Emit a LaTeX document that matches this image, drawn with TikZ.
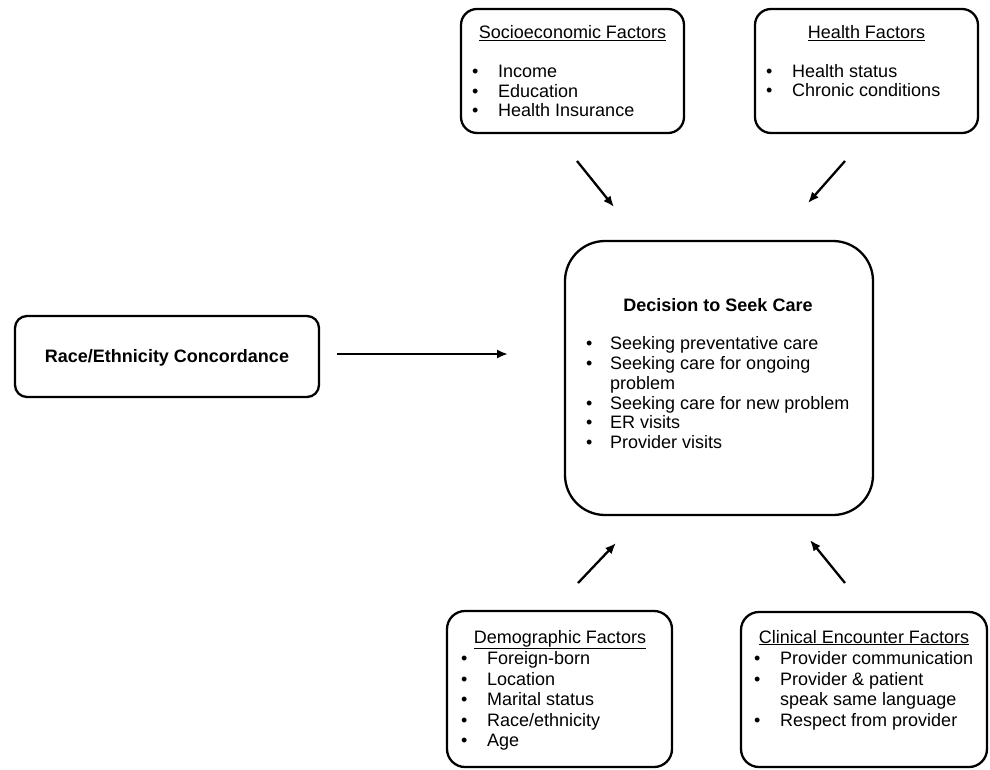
\documentclass[tikz,border=0pt]{standalone}
\usepackage{fontspec}
\setmainfont{Liberation Sans}
\usetikzlibrary{arrows.meta,positioning,calc}
\newcommand{\itm}[2][26pt]{\makebox[#1][l]{\textbullet}#2}
\newcommand{\cont}[2][26pt]{\hspace*{#1}#2}

\begin{document}
\begin{tikzpicture}[x=1pt,y=-1pt,>={Latex[length=11pt,width=9pt]},
  box/.style={draw,line width=2.3pt,rounded corners=#1},box/.default=16pt,
  head/.style={font=\fontsize{18}{21}\selectfont,inner sep=0pt,anchor=base},
  bhead/.style={head,font=\bfseries\fontsize{18}{21}\selectfont},
  list/.style={font=\fontsize{18}{#1}\selectfont,align=left,inner sep=0pt,anchor=north west},
  list/.default=19.5pt,
  arr/.style={->,line width=2.3pt}]
\useasboundingbox (0,0) rectangle (990,769);
% boxes
\node[box=12pt,minimum width=304,minimum height=81] (race) at (167,356.5) {};
\node[box,minimum width=223,minimum height=124] (socio) at (572.5,71) {};
\node[box,minimum width=223,minimum height=124] (health) at (866.5,71) {};
\node[box=40pt,minimum width=308,minimum height=274] (care) at (719,378) {};
\node[box=18pt,minimum width=225,minimum height=156] (demo) at (559.5,689) {};
\node[box=18pt,minimum width=246,minimum height=155] (clin) at (864,689.5) {};
% texts
\node[bhead] (raceTxt) at (167,362.5) {Race/Ethnicity Concordance};
\node[head] (socioHead) at (572.5,38.5) {\underline{Socioeconomic Factors}};
\node[list] (socioList) at (472,65.4) {\itm{Income}\\\itm{Education}\\\itm{Health Insurance}};
\node[head] (healthHead) at (866.5,38.5) {\underline{Health Factors}};
\node[list] (healthList) at (766,64) {\itm{Health status}\\\itm{Chronic conditions}};
\node[bhead] (careHead) at (718,311.5) {Decision to Seek Care};
\node[list=19.8pt] (careList) at (586,336.4) {\itm[24pt]{Seeking preventative care}\\
  \itm[24pt]{Seeking care for ongoing}\\\cont[24pt]{problem}\\
  \itm[24pt]{Seeking care for new problem}\\\itm[24pt]{ER visits}\\\itm[24pt]{Provider visits}};
\node[head] (demoHead) at (560,643) {\underline{Demographic Factors}};
\node[list=20.5pt] (demoList) at (461,651.4) {\itm{Foreign-born}\\\itm{Location}\\\itm{Marital status}\\
  \itm{Race/ethnicity}\\\itm{Age}};
\node[head] (clinHead) at (864,643) {\underline{Clinical Encounter Factors}};
\node[list=20.5pt] (clinList) at (754,651.4) {\itm{Provider communication}\\\itm{Provider \& patient}\\
  \cont{speak same language}\\\itm{Respect from provider}};
% arrow ends
\coordinate (raceA) at (337,354); \coordinate (raceB) at (508,354);
\coordinate (socioA) at (577,161); \coordinate (socioB) at (614,207);
\coordinate (healthA) at (845,161); \coordinate (healthB) at (808,203);
\coordinate (demoA) at (578,583); \coordinate (demoB) at (616,543);
\coordinate (clinA) at (845,583); \coordinate (clinB) at (810,540);
\foreach \a in {race,socio,health,demo,clin} {\draw[arr] (\a A) -- (\a B);}
\end{tikzpicture}
\end{document}
